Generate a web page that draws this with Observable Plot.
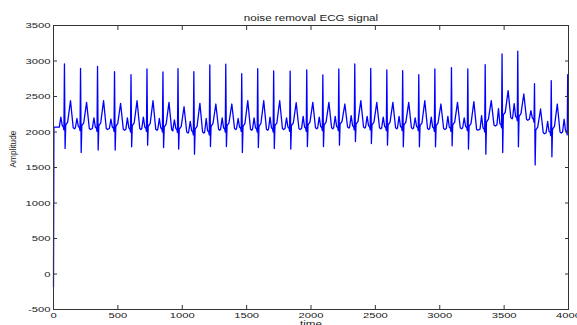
<!DOCTYPE html>
<html><head><meta charset="utf-8">
<script src="https://cdn.jsdelivr.net/npm/d3@7"></script>
<script src="https://cdn.jsdelivr.net/npm/@observablehq/plot@0.6"></script>
<style>body{margin:0;background:#fff;overflow:hidden} #chart{width:577px;height:325px}</style>
</head><body><div id="chart"></div>
<script>
// Values
const title = "noise removal ECG signal";
const xLabel = "time";
const yLabel = "Amplitude";
const xTicks = [0, 500, 1000, 1500, 2000, 2500, 3000, 3500, 4000];
const yTicks = [-500, 0, 500, 1000, 1500, 2000, 2500, 3000, 3500];

const startValue = -180;
const baseStart = 2070;
// per-beat features
const rTime = [85, 210, 342, 474, 602, 726, 850, 967, 1090, 1214, 1338, 1462, 1586, 1710, 1838, 1967,
               2092, 2216, 2340, 2464, 2589, 2712, 2837, 2962, 3091, 3218, 3353, 3484, 3606, 3736, 3866, 3994];
const rPeak = [2959, 2897, 2925, 2850, 2808, 2888, 2846, 2893, 2850, 2945, 2954, 2822, 2893, 2860, 2858, 2874,
               2803, 2888, 2959, 2897, 2874, 2865, 2808, 2888, 2907, 2888, 2949, 3100, 3137, 2680, 2724, 2808];
const sDip  = [1768, 1711, 1745, 1745, 1792, 1815, 1782, 1759, 1688, 1796, 1796, 1711, 1782, 1768, 1759, 1796,
               1796, 1815, 1866, 1838, 1815, 1792, 1792, 1792, 1806, 1759, 1688, 1711, 1792, 1537, 1650, 1900];
const tPeak = [2441, 2417, 2441, 2403, 2441, 2441, 2417, 2356, 2403, 2394, 2394, 2441, 2441, 2441, 2413, 2417,
               2417, 2394, 2441, 2417, 2417, 2417, 2441, 2394, 2417, 2427, 2441, 2582, 2535, 2324, 2394, 2400];
const pPeak = [2210, 2190, 2200, 2180, 2200, 2210, 2190, 2170, 2150, 2190, 2200, 2190, 2200, 2210, 2200, 2220,
               2210, 2220, 2230, 2220, 2210, 2220, 2200, 2210, 2220, 2200, 2230, 2330, 2400, 2300, 2150, 2180];
const baseAfter = [2060, 2050, 2050, 2040, 2050, 2040, 2030, 2000, 2000, 2040, 2050, 2040, 2040, 2050, 2050, 2060,
                   2060, 2070, 2070, 2060, 2060, 2060, 2050, 2050, 2060, 2040, 2100, 2200, 2180, 1990, 2000, 2020];

// assemble the trace vertices from the read features
const signal = [{t: 0, v: startValue}, {t: 3, v: baseStart}];
rTime.forEach((r, i) => {
  const bPre = i === 0 ? baseStart : baseAfter[i - 1];
  const b = baseAfter[i];
  signal.push({t: r - 40, v: bPre}, {t: r - 28, v: pPeak[i]}, {t: r - 17, v: bPre + 20},
              {t: r - 8, v: bPre}, {t: r - 4, v: bPre - 40}, {t: r, v: rPeak[i]});
  if (i < rTime.length - 1) {
    signal.push({t: r + 5, v: sDip[i]}, {t: r + 10, v: b + 40}, {t: r + 25, v: b + 80},
                {t: r + 47, v: tPeak[i]}, {t: r + 68, v: b}, {t: r + 78, v: b - 15});
  }
});

const fmt = d => String(d);
const chart = Plot.plot({
  width: 577, height: 325,
  marginLeft: 53, marginRight: 9, marginTop: 25, marginBottom: 16,
  style: {fontFamily: "'Liberation Sans', Arial, sans-serif", fontSize: "8px", color: "#1a1a1a", background: "#fff"},
  x: {domain: [0, 4000], label: null},
  y: {domain: [-500, 3500], label: null},
  marks: [
    Plot.line(signal, {x: "t", y: "v", stroke: "#0000ff", strokeWidth: 1.3}),
    Plot.frame({stroke: "#333"}),
    Plot.axisX(xTicks, {anchor: "bottom", tickSize: 0, tickPadding: 3, tickFormat: fmt, label: null}),
    Plot.axisY(yTicks, {anchor: "left", tickSize: 0, tickPadding: 3, tickFormat: fmt, label: null}),
    Plot.axisX(xTicks, {anchor: "bottom", tickSize: -4, tickFormat: () => "", label: null, stroke: "#333"}),
    Plot.axisX(xTicks, {anchor: "top", tickSize: -4, tickFormat: () => "", label: null, stroke: "#333"}),
    Plot.axisY(yTicks, {anchor: "left", tickSize: -4, tickFormat: () => "", label: null, stroke: "#333"}),
    Plot.axisY(yTicks, {anchor: "right", tickSize: -4, tickFormat: () => "", label: null, stroke: "#333"}),
    Plot.text([title], {frameAnchor: "top", dy: -5, lineAnchor: "bottom", fontSize: 8.3}),
    Plot.text([xLabel], {frameAnchor: "bottom", dy: 12, lineAnchor: "top", fontSize: 8.3}),
    Plot.text([yLabel], {frameAnchor: "left", dx: -40, rotate: -90, fontSize: 8.3})
  ]
});
document.getElementById("chart").append(chart);
// the reference is stretched horizontally; widen horizontal texts
chart.querySelectorAll("text").forEach(t => {
  if (t.textContent === yLabel) return;
  const L = t.getComputedTextLength();
  if (L > 0) { t.setAttribute("textLength", L * 1.4); t.setAttribute("lengthAdjust", "spacingAndGlyphs"); }
});
</script>
</body></html>
